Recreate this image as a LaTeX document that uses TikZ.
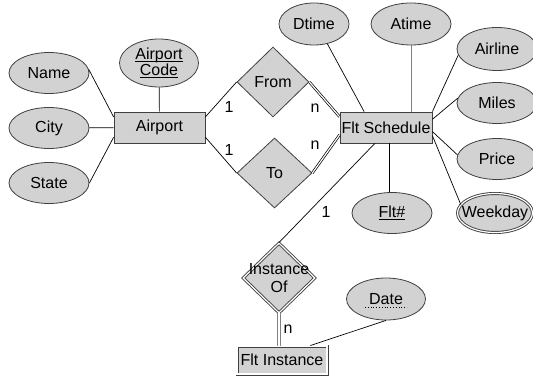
\documentclass[tikz,border=0pt]{standalone}
\usepackage{fontspec}
\setmainfont{Liberation Sans}
\usetikzlibrary{shapes.geometric}
\definecolor{erfill}{HTML}{D2D2D2}
\definecolor{erline}{HTML}{404040}
\newcommand{\keyul}[1]{\setbox0\hbox{#1}\rlap{\rule[-2.5pt]{\wd0}{1.4pt}}\box0}
\begin{document}
\begin{tikzpicture}[x=1pt, y=-1pt, font=\fontsize{16}{16}\selectfont,
  attr/.style={ellipse, draw=erline, fill=erfill, line width=0.8pt, minimum width=80pt, minimum height=41pt, inner sep=0pt},
  ent/.style={rectangle, draw=erline, fill=erfill, line width=0.8pt, minimum width=91pt, minimum height=31pt, inner sep=0pt},
  rel/.style={diamond, draw=erline, fill=erfill, line width=0.8pt, minimum width=72pt, minimum height=70pt, inner sep=0pt},
  dbl/.style={double=white, double distance=1.2pt, line width=0.9pt},
  link/.style={line width=0.7pt},
  total/.style={double, double distance=1.2pt, line width=0.7pt},
  card/.style={inner sep=0pt}]
\useasboundingbox (0,0) rectangle (533,377);
\node[attr] (name) at (49,73) {Name};
\node[attr] (city) at (49,128) {City};
\node[attr] (state) at (49,183) {State};
\node[attr, minimum width=79pt, minimum height=48pt, align=center] (code) at (159,63) {\keyul{Airport}\\\keyul{Code}};
\node[ent] (airport) at (159.5,127.5) {Airport};
\node[rel] (from) at (273,82) {From};
\node[rel, minimum width=75pt] (to) at (274.5,173) {To};
\node[ent, minimum width=92pt] (fs) at (386,127.5) {Flt Schedule};
\node[attr, minimum width=70pt, minimum height=42pt] (dtime) at (314,24) {Dtime};
\node[attr, minimum height=42pt] (atime) at (411,24) {Atime};
\node[attr, minimum height=43pt] (airline) at (497,49) {Airline};
\node[attr] (miles) at (497,103) {Miles};
\node[attr] (price) at (497,159) {Price};
\node[attr, dbl, minimum width=75pt, minimum height=39pt, inner xsep=-8pt] (weekday) at (495,213) {Weekday};
\node[attr] (fltno) at (392,213) {\keyul{Flt\#}};
\node[rel, dbl, inner sep=-6pt, align=center, font=\fontsize{16}{18}\selectfont] (inst) at (279,278) {Instance\\Of};
\node[attr, minimum width=79pt, minimum height=42pt] (date) at (386,299) {Date};
\node[ent, dbl, minimum width=90pt, minimum height=28pt] (fi) at (282,360) {Flt Instance};
\draw[dotted, line width=0.8pt] ([xshift=-21pt,yshift=-3pt]date.base) -- ([xshift=21pt,yshift=-3pt]date.base);
\draw[link] (name.5) -- (airport.167);
\draw[link] (city) -- (airport);
\draw[link] (state.east) -- (airport.192);
\draw[link] (code) -- (airport);
\draw[link] (airport.13) -- (from.west);
\draw[link] (airport.-12) -- (to.west);
\draw[total] (from.east) -- (fs.167);
\draw[total] (to.east) -- (fs.189);
\draw[link] (dtime.-56) -- (fs.144);
\draw[link, gray] (atime) -- (atime |- fs.north);
\draw[link] (fs.north east) -- (airline.189);
\draw[link] (fs.10) -- (miles.173);
\draw[link] (fs.-5) -- (price.174);
\draw[link] (fs.-10) -- (weekday.166);
\draw[link] ([xshift=-3pt]fltno.north) -- ([xshift=-3pt]fltno.north |- fs.south);
\draw[link] (fs.235) -- (inst.north);
\draw[total, draw=gray, line width=1pt] (inst.south) -- (inst.south |- fi.north);
\draw[link] (date.south) -- (fi.27);
\node[card] (c1) at (229,107) {1};
\node[card] (c2) at (229,150) {1};
\node[card] (c3) at (315,108) {n};
\node[card] (c4) at (315,145) {n};
\node[card] (c5) at (326,212) {1};
\node[card] (c6) at (288,329) {n};
\end{tikzpicture}
\end{document}
